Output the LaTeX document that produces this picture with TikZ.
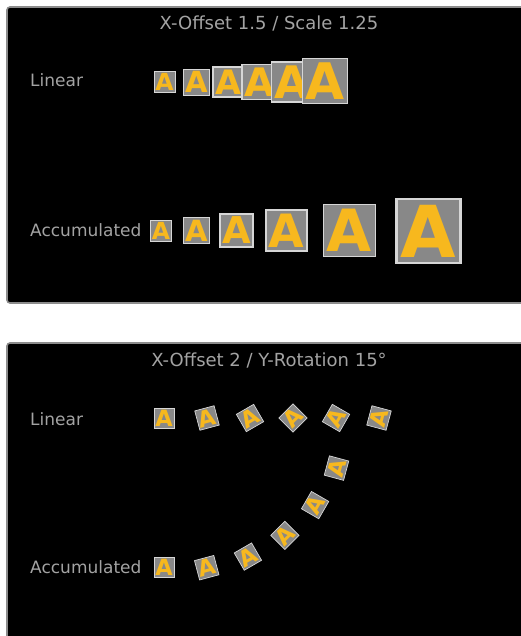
\documentclass[tikz,border=0pt]{standalone}
\usepackage{fontspec}
\setmainfont{DejaVu Sans}
\definecolor{panelborder}{HTML}{8C8C8C}
\definecolor{labelgray}{HTML}{A3A3A3}
\definecolor{boxgray}{HTML}{888888}
\definecolor{boxedge}{HTML}{D6D6D6}
\definecolor{ayellow}{HTML}{F7B81E}
\tikzset{
  panel/.style={fill=black, draw=panelborder, line width=1.6pt, rounded corners=3pt},
  lbl/.style={text=labelgray, font=\fontsize{17}{17}\selectfont, inner sep=0pt, anchor=base west},
  ttl/.style={text=labelgray, font=\fontsize{18}{18}\selectfont, inner sep=0pt, anchor=base},
  abox/.style={fill=boxgray, draw=boxedge, inner sep=0pt, text=ayellow, shape=rectangle}
}
\newcommand\abox[5]{%
  \pgfmathsetmacro\afs{#4*1.12}%
  \pgfmathsetmacro\alw{#4*0.035}%
  \node[abox, minimum size=#4pt, line width=\alw pt, rotate=#5,
        font=\bfseries\fontsize{\afs}{\afs}\selectfont] (#1) at (#2,#3) {A};}
\begin{document}
\begin{tikzpicture}[x=1pt,y=-1pt]
\useasboundingbox[fill=white] (0,0) rectangle (520,636);
% panels
\draw[panel] (7,7) rectangle (530,303);
\draw[panel] (7,343) rectangle (530,648);
% texts
\node[ttl] (t1) at (269,30) {X-Offset 1.5 / Scale 1.25};
\node[lbl] (l1) at (30,87) {Linear};
\node[lbl] (a1) at (30,236) {Accumulated};
\node[ttl] (t2) at (269,366) {X-Offset 2 / Y-Rotation 15°};
\node[lbl] (l2) at (30,425) {Linear};
\node[lbl] (a2) at (30,573) {Accumulated};
% top linear
\abox{tl1}{164.5}{82}{21}{0}
\abox{tl2}{196.5}{82}{26}{0}
\abox{tl3}{228}{82}{30}{0}
\abox{tl4}{259.5}{82}{35}{0}
\abox{tl5}{291.5}{82}{40}{0}
\abox{tl6}{325}{81}{45}{0}
% top accumulated
\abox{ta1}{161}{230.5}{21}{0}
\abox{ta2}{196.5}{230.5}{26}{0}
\abox{ta3}{236.5}{230.5}{33}{0}
\abox{ta4}{286.5}{230.5}{41}{0}
\abox{ta5}{349.5}{230.5}{52}{0}
\abox{ta6}{428.5}{231}{64}{0}
% bottom linear
\abox{bl1}{164}{418}{20}{0}
\abox{bl2}{207}{418}{20}{15}
\abox{bl3}{250}{418}{20}{30}
\abox{bl4}{293}{418}{20}{45}
\abox{bl5}{336}{418}{20}{60}
\abox{bl6}{379}{418}{20}{75}
% bottom accumulated
\abox{ba1}{164}{567.7}{20}{0}
\abox{ba2}{206.7}{567.7}{20}{15}
\abox{ba3}{247.9}{556.6}{20}{30}
\abox{ba4}{284.9}{535.3}{20}{45}
\abox{ba5}{315.1}{505.1}{20}{60}
\abox{ba6}{336.5}{468.1}{20}{75}
\end{tikzpicture}
\end{document}
